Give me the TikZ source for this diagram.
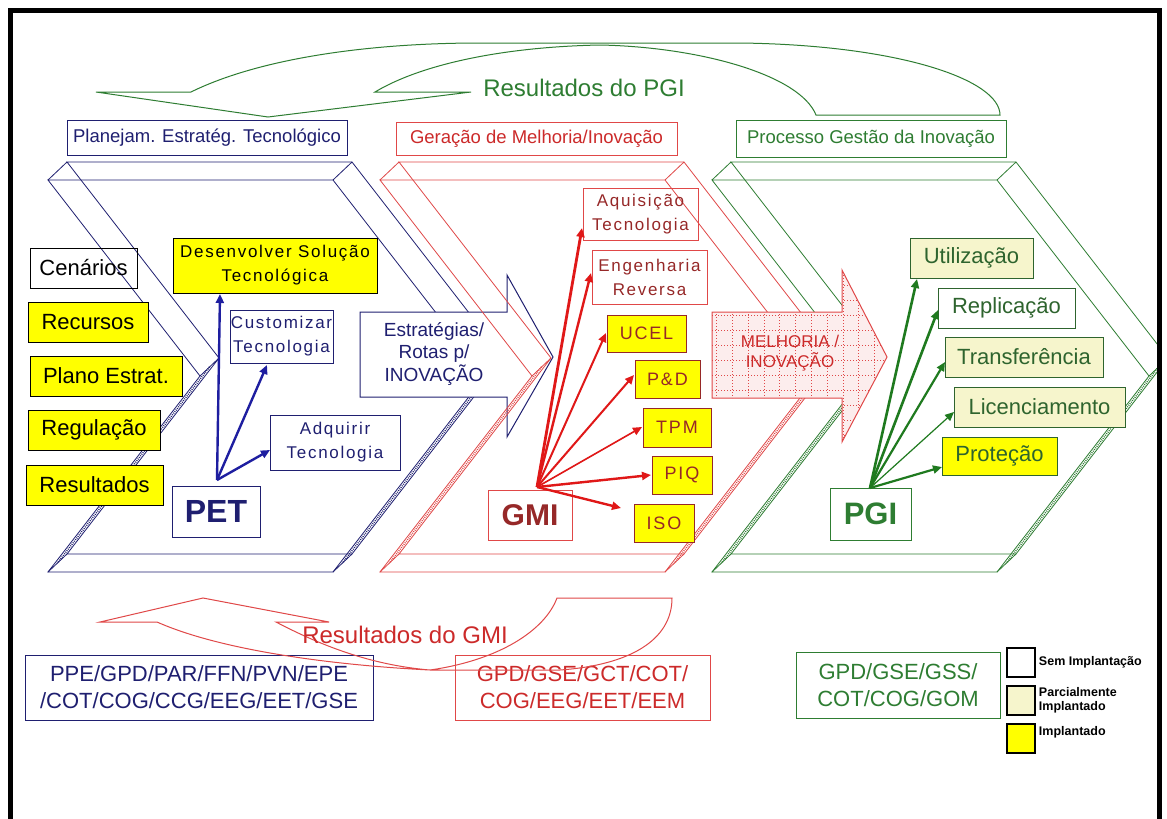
\documentclass[tikz,border=0pt]{standalone}
\usepackage{fontspec}
\setmainfont{Liberation Sans}
\newfontfamily\spaced[LetterSpace=10]{Liberation Sans}
\usetikzlibrary{arrows.meta}
\definecolor{navy}{HTML}{1F1F70}
\definecolor{bluearr}{HTML}{1E1EA0}
\definecolor{redline}{HTML}{E04848}
\definecolor{redtxt}{HTML}{CC2A2A}
\definecolor{dred}{HTML}{962828}
\definecolor{redarr}{HTML}{E01818}
\definecolor{grn}{HTML}{2E7D32}
\definecolor{gtxt}{HTML}{2E642E}
\definecolor{garr}{HTML}{1F7A1F}
\definecolor{yel}{HTML}{FFFF00}
\definecolor{paleyel}{HTML}{F6F5CC}
\definecolor{melfill}{HTML}{FCEDED}
\newcommand\fsz[2]{\fontsize{#1pt}{#2pt}\selectfont}
% one extruded chevron: front face, back face and the six depth edges
\newcommand\chevshape[1]{%
  \draw[chl,#1] (48,180)--(333,180)--(485,376)--(333,572)--(48,572)--(200,376)--cycle;
  \draw[chl,#1] (67,162)--(352,162)--(504,358)--(352,554)--(67,554)--(219,358)--cycle;
  \foreach \a/\b in {48/180,333/180,485/376,333/572,48/572,200/376}
    \draw[chl,#1] (\a,\b) -- ++(19,-18);
  \draw[hatch,#1] (209.5,367) -- (57.5,563);
  \draw[hatch,#1] (494.5,367) -- (342.5,563);
}
\tikzset{
  chl/.style={line width=0.8pt},
  hatch/.style={line width=1.6pt, dash pattern=on 0.8pt off 1.2pt},
  box/.style={draw, line width=1pt, inner sep=0pt, align=center},
  ybox/.style={box, fill=yel},
  pbox/.style={box, fill=paleyel},
  ttl/.style={box, fill=white, font=\fsz{18.5}{22}},
  arr/.style={-{Triangle[length=9pt,width=8pt]}, line width=2.4pt},
  band/.style={line width=1pt},
  legtxt/.style={font=\bfseries\fsz{12.5}{14}, inner sep=0pt},
}
\begin{document}
\begin{tikzpicture}[x=1pt,y=-1pt]
\useasboundingbox (0,0) rectangle (1167,819);
\fill[white] (0,0) rectangle (1167,819);
\begin{scope}
\clip (10,10) rectangle (1159,819);

% results loop of the innovation process (top)
\draw[band, grn] (96,92) -- (191,92) .. controls (260,58) and (370,43) .. (480,43)
  -- (740,43) .. controls (900,45) and (1000,80) .. (1000,115) -- (816,115)
  .. controls (800,75) and (700,47) .. (600,45) .. controls (500,47) and (420,65) .. (375,92)
  -- (471,92) -- (268,117) -- cycle;
\node[text=grn, font=\fsz{24}{28}, anchor=base] (rpgi) at (584,96) {Resultados do PGI};

% stage titles
\node[ttl, draw=navy, text=navy, minimum width=280pt, minimum height=35pt] (tpet) at (207,137.5) {Planejam. Estratég. Tecnológico};
\node[ttl, draw=redline, text=redtxt, minimum width=281pt, minimum height=33pt] (tgmi) at (536.5,138.5) {Geração de Melhoria/Inovação};
\node[ttl, draw=grn, text=grn, minimum width=270pt, minimum height=37pt] (tpgi) at (871,138.5) {Processo Gestão da Inovação};

% stage bodies
\chevshape{navy}
\draw[navy, fill=white, line width=1pt] (360,312)--(507,312)--(507,275)--(553,357)--(507,437)--(507,397)--(360,397)--cycle;
\node[text=navy, font=\fsz{19}{22.5}, align=center] (estr) at (434,354) {Estratégias/\\Rotas p/\\INOVAÇÃO};
\begin{scope}[xshift=332pt]\chevshape{redline}\end{scope}
\begin{scope}[xshift=664pt]\chevshape{grn}\end{scope}

% improvement / innovation arrow with dotted grid
\path[fill=melfill] (712,312)--(842,312)--(842,270)--(887,357)--(842,442)--(842,398)--(712,398)--cycle;
\begin{scope}
  \clip (712,312)--(842,312)--(842,270)--(887,357)--(842,442)--(842,398)--(712,398)--cycle;
  \foreach \gx in {716.7,732.5,...,890} \draw[redline, dotted, line width=1pt] (\gx,260) -- (\gx,450);
  \foreach \gy in {285,300,...,440} \draw[redline, dotted, line width=1pt] (700,\gy) -- (900,\gy);
\end{scope}
\draw[redline, line width=1pt] (712,312)--(842,312)--(842,270)--(887,357)--(842,442)--(842,398)--(712,398)--cycle;
\node[text=redtxt, font=\fsz{17}{20}, align=center] (mel) at (790,353) {MELHORIA /\\INOVAÇÃO};

% PET inputs
\node[box, draw=black, minimum width=107pt, minimum height=40pt, font=\fsz{22}{25}] (cen) at (83.5,268) {Cenários};
\node[ybox, draw=black, minimum width=120pt, minimum height=40pt, font=\fsz{22}{25}] (rec) at (88,322) {Recursos};
\node[ybox, draw=black, minimum width=152pt, minimum height=40pt, font=\fsz{22}{25}] (pla) at (106,376) {Plano Estrat.};
\node[ybox, draw=black, minimum width=132pt, minimum height=40pt, font=\fsz{22}{25}] (reg) at (94,430) {Regulação};
\node[ybox, draw=black, minimum width=137pt, minimum height=40pt, font=\fsz{22}{25}] (res) at (94.5,485) {Resultados};

% PET
\node[ybox, draw=black, minimum width=204pt, minimum height=55pt, font=\spaced\fsz{17}{24}] (des) at (275,265.5) {Desenvolver Solução\\Tecnológica};
\node[box, draw=navy, text=navy, minimum width=103pt, minimum height=53pt, font=\spaced\fsz{17}{24}] (cus) at (281.5,336.5) {Customizar\\Tecnologia};
\node[box, draw=navy, text=navy, fill=white, minimum width=130pt, minimum height=55pt, font=\spaced\fsz{17}{24}] (adq) at (335,442.5) {Adquirir\\Tecnologia};
\node[box, draw=navy, text=navy, fill=white, minimum width=88pt, minimum height=51pt, font=\bfseries\fsz{32}{34}] (pet) at (216,511.5) {PET};
\coordinate (petO) at (217,480);
\coordinate (tdes) at (220,294);
\coordinate (tcus) at (267,365);
\coordinate (tadq) at (270,450);
\draw[arr, bluearr] (petO) -- (tdes);
\draw[arr, bluearr] (petO) -- (tcus);
\draw[arr, bluearr] (petO) -- (tadq);

% GMI
\node[box, draw=redline, text=dred, minimum width=115pt, minimum height=52pt, font=\spaced\fsz{17}{24}] (aqu) at (640.5,214) {Aquisição\\Tecnologia};
\node[box, draw=redline, text=dred, fill=white, minimum width=115pt, minimum height=54pt, font=\spaced\fsz{17}{24}] (eng) at (649.5,277) {Engenharia\\Reversa};
\node[ybox, draw=dred, text=dred, minimum width=79pt, minimum height=37pt, font=\spaced\fsz{18}{22}] (ucel) at (646.5,333.5) {UCEL};
\node[ybox, draw=dred, text=dred, minimum width=65pt, minimum height=38pt, font=\spaced\fsz{18}{22}] (pd) at (667.5,379) {P\&D};
\node[ybox, draw=dred, text=dred, minimum width=68pt, minimum height=39pt, font=\spaced\fsz{18}{22}] (tpm) at (677,427.5) {TPM};
\node[ybox, draw=dred, text=dred, minimum width=60pt, minimum height=38pt, font=\spaced\fsz{18}{22}] (piq) at (682,475) {PIQ};
\node[ybox, draw=dred, text=dred, minimum width=60pt, minimum height=38pt, font=\spaced\fsz{18}{22}] (iso) at (664,523) {ISO};
\node[box, draw=redline, text=dred, fill=white, minimum width=84pt, minimum height=50pt, font=\bfseries\fsz{30}{32}] (gmi) at (530,515) {GMI};
\coordinate (gmiO) at (537,487);
\coordinate (taqu) at (582,228);
\coordinate (teng) at (591,273);
\coordinate (tucel) at (606,333);
\coordinate (tpd) at (634,375);
\coordinate (ttpm) at (642,427);
\coordinate (tpiq) at (651,475);
\coordinate (tiso) at (621,508);
\draw[arr, redarr, line width=2.8pt] (gmiO) -- (taqu);
\draw[arr, redarr, line width=2.4pt] (gmiO) -- (teng);
\draw[arr, redarr, line width=2pt] (gmiO) -- (tucel);
\draw[arr, redarr, line width=2pt] (gmiO) -- (tpd);
\draw[arr, redarr, line width=1.6pt] (gmiO) -- (ttpm);
\draw[arr, redarr, line width=2.4pt] (gmiO) -- (tpiq);
\draw[arr, redarr, line width=2.4pt] (gmiO) -- (tiso);

% PGI
\node[pbox, draw=gtxt, text=gtxt, minimum width=123pt, minimum height=40pt, font=\fsz{22}{25}] (uti) at (971.5,258) {Utilização};
\node[box, draw=gtxt, text=gtxt, fill=white, minimum width=137pt, minimum height=40pt, font=\fsz{22}{25}] (rep) at (1006.5,308) {Replicação};
\node[pbox, draw=gtxt, text=gtxt, minimum width=158pt, minimum height=40pt, font=\fsz{22}{25}] (tra) at (1024,357) {Transferência};
\node[pbox, draw=gtxt, text=gtxt, minimum width=171pt, minimum height=40pt, font=\fsz{22}{25}] (lic) at (1039.5,407) {Licenciamento};
\node[ybox, draw=gtxt, text=gtxt, minimum width=115pt, minimum height=38pt, font=\fsz{22}{25}] (pro) at (999.5,456) {Proteção};
\node[box, draw=grn, text=grn, fill=white, minimum width=81pt, minimum height=52pt, font=\bfseries\fsz{31}{33}] (pgi) at (870.5,514) {PGI};
\coordinate (pgiO) at (870,488);
\coordinate (tuti) at (917,279);
\coordinate (trep) at (938,310);
\coordinate (ttra) at (945,362);
\coordinate (tlic) at (954,412);
\coordinate (tpro) at (942,467);
\draw[arr, garr, line width=2.6pt] (pgiO) -- (tuti);
\draw[arr, garr, line width=2.6pt] (pgiO) -- (trep);
\draw[arr, garr, line width=2.2pt] (pgiO) -- (ttra);
\draw[arr, garr, line width=1.2pt] (pgiO) -- (tlic);
\draw[arr, garr, line width=2.2pt] (pgiO) -- (tpro);

% areas involved in each stage
\node[box, draw=navy, text=navy, minimum width=348pt, minimum height=65pt, font=\fsz{22}{27}] (apet) at (199,687.5) {PPE/GPD/PAR/FFN/PVN/EPE\\/COT/COG/CCG/EEG/EET/GSE};
\node[box, draw=redline, text=redtxt, minimum width=255pt, minimum height=65pt, font=\fsz{22}{27}] (agmi) at (582.5,687.5) {GPD/GSE/GCT/COT/\\COG/EEG/EET/EEM};
\node[box, draw=grn, text=grn, minimum width=204pt, minimum height=66pt, font=\fsz{22}{27}] (apgi) at (898,685) {GPD/GSE/GSS/\\COT/COG/GOM};

% results loop of the improvement stage (bottom)
\draw[band, redline] (100,622) -- (203,598) -- (329,622) -- (276,622)
  .. controls (320,645) and (370,665) .. (430,670) .. controls (500,660) and (545,630) .. (557,598)
  -- (672,598) .. controls (672,640) and (630,665) .. (560,670) -- (430,670)
  .. controls (330,665) and (220,650) .. (157,622) -- cycle;
\node[text=redtxt, font=\fsz{24}{28}, anchor=base] (rgmi) at (405,643) {Resultados do GMI};

% legend
\node[box, draw=black, line width=1.5pt, fill=white, minimum width=28pt, minimum height=29pt] (lg1) at (1021,662.5) {};
\node[box, draw=black, line width=1.5pt, fill=paleyel, minimum width=28pt, minimum height=29pt] (lg2) at (1021,700.5) {};
\node[box, draw=black, line width=1.5pt, fill=yel, minimum width=28pt, minimum height=29pt] (lg3) at (1021,738.5) {};
\node[legtxt, anchor=west] (lt1) at ([xshift=3pt]lg1.east) {Sem Implantação};
\node[legtxt, anchor=west, align=left] (lt2) at ([xshift=3pt]lg2.east) {Parcialmente\\Implantado};
\node[legtxt, anchor=north west] (lt3) at ([xshift=3pt,yshift=-3pt]lg3.north east) {Implantado};
\end{scope}

% frame
\draw[line width=5pt] (10,819) -- (10,10) -- (1159,10) -- (1159,819);
\end{tikzpicture}
\end{document}
